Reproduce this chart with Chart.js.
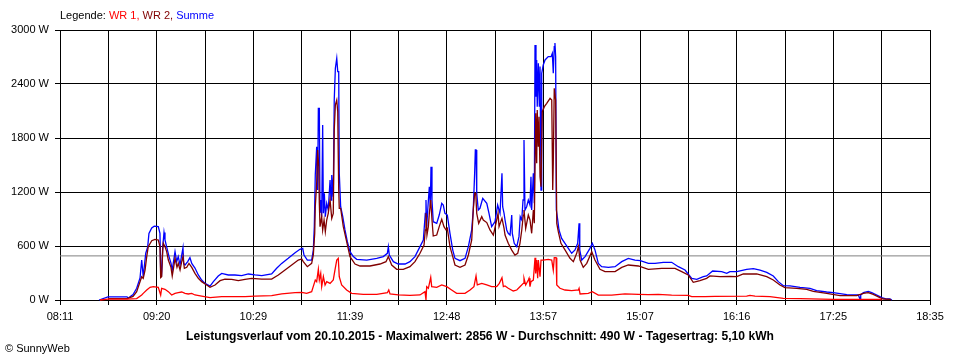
<!DOCTYPE html>
<html><head><meta charset="utf-8">
<script src="https://cdn.jsdelivr.net/npm/chart.js@4/dist/chart.umd.min.js"></script>
<style>html,body{margin:0;padding:0;background:#fff;}#wrap{width:960px;height:360px;}</style>
</head><body><div id="wrap"><canvas id="c" width="960" height="360"></canvas></div>
<script>
// ---- data (time in minutes since midnight, power in W) ----
const xTickLabels = ['08:11','09:20','10:29','11:39','12:48','13:57','15:07','16:16','17:25','18:35'];
const yTickLabels = ['0 W','600 W','1200 W','1800 W','2400 W','3000 W'];
const seriesNames = ['WR 1','WR 2','Summe'];
const timeMin = 491, timeMax = 1115;
const avgW = 490;
const titleText = 'Leistungsverlauf vom 20.10.2015 - Maximalwert: 2856 W - Durchschnitt: 490 W - Tagesertrag: 5,10 kWh';
const footerText = '\u00A9 SunnyWeb';

const sumT = [519.0,525.4,539.1,539.8,543.4,546.0,548.4,549.6,550.7,552.5,553.9,554.8,556.8,558.6,561.5,562.7,563.2,563.9,564.7,565.6,566.3,567.5,569.2,570.6,571.5,572.6,573.5,574.7,575.8,577.1,578.3,579.2,579.7,580.7,582.6,584.2,585.5,587.8,590.2,592.6,595.0,598.6,601.0,604.5,607.0,611.7,616.5,621.3,626.1,630.9,635.7,642.8,646.4,650.0,654.7,659.6,663.1,665.1,666.0,668.4,671.5,672.7,673.4,674.1,675.1,675.8,676.3,677.0,677.5,678.2,678.7,679.4,679.9,680.6,681.3,682.3,683.4,684.7,685.4,685.9,687.0,687.7,688.5,689.5,690.2,690.9,691.3,692.3,693.8,695.4,697.1,699.0,701.4,703.8,711.0,718.2,722.9,725.8,726.5,727.2,730.1,733.6,738.5,742.0,745.6,749.2,751.6,753.0,753.5,754.0,754.9,755.9,756.6,757.1,757.8,758.7,761.2,763.0,764.8,765.9,767.1,768.8,770.7,772.7,774.3,777.9,781.5,783.9,786.3,787.4,788.4,788.9,789.4,789.9,791.0,792.2,794.2,797.1,798.7,800.6,803.0,804.9,805.9,806.6,808.0,808.5,809.5,810.2,811.4,812.5,813.8,815.0,815.4,816.8,818.6,820.2,821.1,822.2,823.1,823.8,824.5,825.7,826.9,828.1,828.8,829.3,830.5,831.2,831.7,832.4,832.9,833.3,834.1,834.8,835.3,836.0,836.5,837.6,838.9,841.2,843.2,844.1,844.8,845.5,846.0,846.5,847.0,848.0,848.9,850.8,853.2,855.6,858.0,860.4,862.3,863.3,863.8,865.2,867.6,871.1,872.8,874.7,877.1,879.5,884.3,889.1,893.9,898.6,903.4,907.2,913.0,917.8,923.7,929.7,934.5,939.3,944.1,947.7,952.4,954.8,959.1,965.6,969.2,971.5,976.4,983.5,988.3,993.1,997.9,1002.6,1006.2,1009.8,1014.6,1021.8,1028.9,1033.7,1040.9,1045.6,1055.3,1063.6,1064.8,1065.3,1067.2,1070.7,1073.2,1076.8,1080.4,1083.9,1086.3,1087.7];
const sumW = [0,35,35,19,60,130,245,445,259,520,590,740,800,820,815,740,333,300,593,750,667,590,482,410,333,445,537,426,482,390,500,580,407,390,426,470,407,355,278,222,185,155,204,267,296,278,278,270,289,278,270,289,352,407,463,526,563,574,500,444,444,555,815,1389,1703,1222,2130,2130,966,1111,926,1944,963,1185,926,1074,1000,1333,1111,1389,1148,2222,2574,2685,2537,2537,1411,1037,926,778,648,537,482,452,444,463,482,519,593,500,426,400,400,426,482,593,667,963,1111,815,1037,1259,1037,1481,1111,870,852,944,1074,1055,963,944,741,555,463,437,463,593,778,1000,1407,1667,1667,1185,1000,1019,1130,1074,963,815,870,1055,1000,963,1407,1037,963,889,778,741,722,944,741,630,593,704,926,889,1111,1778,1000,1037,1111,1055,1370,1000,1407,1074,2833,2259,2667,2148,2630,2148,2593,1222,2519,2611,2667,2704,2704,2741,2519,2815,2856,2704,1000,889,778,685,630,574,519,556,630,852,556,444,482,574,630,556,407,370,363,370,426,463,444,437,407,407,419,419,370,333,241,230,259,267,322,315,296,315,315,341,348,333,307,267,204,159,156,141,130,104,89,81,59,56,11,56,81,96,81,56,26,11,11,0];

const wr2T = [525.4,539.1,543.4,546.0,549.6,550.7,552.0,553.2,554.3,556.8,559.1,561.5,562.7,563.2,563.9,564.7,565.1,566.3,567.5,568.7,570.6,571.5,572.6,573.5,574.9,575.8,577.1,578.3,579.2,580.2,581.9,583.5,585.5,587.8,590.2,592.6,596.2,598.6,602.2,605.8,609.3,614.2,618.9,623.7,628.5,635.7,642.8,647.6,652.4,657.2,661.9,664.4,665.5,668.4,671.5,672.7,673.7,674.1,675.1,675.8,676.6,677.0,677.5,678.7,679.4,680.4,681.3,682.3,683.4,684.7,685.9,687.0,687.7,688.5,689.5,690.2,690.9,691.3,692.3,694.2,696.6,699.0,702.6,706.2,713.3,720.5,724.8,726.5,728.9,732.5,737.2,742.0,745.6,749.2,752.1,753.0,753.5,754.2,755.2,755.9,756.9,757.8,758.7,761.2,763.0,764.8,766.4,767.9,768.8,770.7,772.7,774.3,777.9,781.5,783.9,786.3,787.4,788.4,789.2,789.9,791.3,793.5,794.6,797.1,799.4,801.8,804.2,805.2,805.9,808.0,809.5,810.2,812.5,815.0,817.3,819.3,820.9,822.2,823.3,823.8,825.0,826.9,828.1,829.3,830.5,831.2,832.2,832.9,833.3,834.1,834.6,835.3,836.0,836.9,838.4,840.1,842.5,843.7,844.4,844.8,845.5,846.5,847.3,848.4,850.3,853.2,856.8,859.2,861.6,862.8,864.0,866.3,868.8,872.4,874.7,878.3,881.9,889.1,893.9,898.6,905.8,913.0,922.6,932.1,936.9,941.6,945.2,950.0,954.8,957.2,964.4,971.5,976.4,981.1,990.7,997.9,1002.6,1007.4,1011.0,1019.4,1026.6,1031.3,1040.9,1050.5,1062.4,1067.2,1070.7,1074.3,1079.1,1081.5,1086.3,1087.0];
const wr2W = [15,15,40,93,259,241,333,482,593,659,674,667,593,250,260,560,630,593,537,444,363,267,370,463,363,407,333,426,482,352,363,407,363,296,241,204,167,141,167,215,233,230,215,230,241,233,233,278,333,389,444,456,426,370,407,500,741,1037,1296,1667,1481,1074,815,926,778,889,759,889,963,1111,907,963,1889,2167,2222,2093,1222,1019,1019,815,648,482,400,378,378,400,426,482,389,341,341,370,426,519,611,778,963,722,815,963,1111,889,711,722,815,896,815,778,796,593,482,389,363,389,500,667,1000,1185,1185,963,852,926,889,860,778,722,889,963,815,907,796,722,630,555,500,519,630,778,944,1000,796,944,889,741,1000,852,2074,1519,2111,1704,2037,1370,1259,2093,2148,2185,2241,2222,1222,1519,2352,2222,852,759,630,556,463,426,519,593,444,363,407,537,444,341,315,315,363,389,378,341,352,352,315,278,196,215,241,267,259,263,259,289,289,259,222,167,137,130,119,96,74,48,48,74,81,63,26,11,7,0];

const wr1T = [519.7,525.4,539.1,546.0,549.6,550.7,553.2,555.6,557.9,561.5,563.2,563.9,566.3,568.7,571.1,573.5,575.8,578.3,580.7,583.0,585.5,587.8,592.6,598.6,607.0,616.5,623.7,630.9,642.8,650.0,659.6,664.4,667.9,671.5,674.1,675.1,676.3,677.0,678.0,678.7,679.9,681.1,682.3,684.7,687.0,688.2,689.5,690.6,691.3,693.0,696.6,700.2,708.5,718.2,725.8,726.8,727.7,733.6,742.0,749.2,752.8,753.5,754.0,755.2,756.9,757.6,761.2,764.8,768.4,771.9,775.5,781.5,785.1,787.9,789.4,790.3,793.5,797.1,800.6,804.2,806.1,808.0,809.0,810.2,812.5,816.1,818.6,820.9,823.3,823.8,825.0,826.9,827.4,828.1,828.8,830.5,831.7,832.2,832.9,833.6,834.1,835.3,836.0,837.6,841.2,843.7,844.8,845.5,846.8,847.3,849.6,853.2,858.0,862.8,863.3,864.0,869.9,872.8,877.1,886.7,896.2,905.8,913.0,920.1,929.7,941.6,944.1,953.6,960.8,983.5,985.9,989.5,1000.2,1009.8,1021.8,1045.6,1079.1,1080.4];
const wr1W = [0,10,10,15,55,74,110,141,148,141,55,130,119,93,55,74,81,89,74,67,74,56,44,26,37,37,37,44,48,67,81,85,74,93,222,204,341,222,296,148,259,167,204,185,222,333,444,463,259,167,111,74,63,63,81,111,67,56,52,56,93,0,148,130,252,148,141,167,148,111,74,74,111,148,267,167,185,167,148,148,185,248,148,156,130,100,111,148,185,241,167,222,241,148,204,222,470,296,444,241,444,259,444,444,452,444,333,470,470,167,130,111,104,111,130,67,74,93,55,55,67,63,59,63,55,52,37,37,41,44,52,44,37,19,15,8,8,0];

// ---- build chart ----
const toXY = (t, w) => t.map((v, i) => ({x: v, y: w[i]}));
const FONT = 'Liberation Sans';

const textPlugin = {
  id: 'texts',
  afterDraw(chart) {
    const ctx = chart.ctx;
    ctx.save();
    ctx.textBaseline = 'middle';
    ctx.textAlign = 'left';
    ctx.font = '11px "' + FONT + '"';
    const parts = [['Legende: ', '#000000'], [seriesNames[0] + ', ', '#ff0000'], [seriesNames[1] + ', ', '#800000'], [seriesNames[2], '#0000ff']];
    let x = 60;
    for (const [t, c] of parts) { ctx.fillStyle = c; ctx.fillText(t, x, 16); x += ctx.measureText(t).width; }
    ctx.fillStyle = '#000';
    ctx.font = 'bold 12.1px "' + FONT + '"';
    ctx.textAlign = 'center';
    ctx.fillText(titleText, 480, 337);
    ctx.font = '11px "' + FONT + '"';
    ctx.textAlign = 'left';
    ctx.fillText(footerText, 5, 349);
    ctx.restore();
  }
};

new Chart(document.getElementById('c'), {
  type: 'line',
  data: {
    datasets: [
      {label: seriesNames[0], data: toXY(wr1T, wr1W), borderColor: '#ff0000', borderWidth: 1.3},
      {label: seriesNames[1], data: toXY(wr2T, wr2W), borderColor: '#800000', borderWidth: 1.3},
      {label: seriesNames[2], data: toXY(sumT, sumW), borderColor: '#0000ff', borderWidth: 1.3},
      {label: 'avg', data: [{x: timeMin, y: avgW}, {x: timeMax, y: avgW}], borderColor: '#808080', borderWidth: 1}
    ]
  },
  options: {
    responsive: false,
    animation: false,
    devicePixelRatio: 1,
    layout: {padding: {top: 30, right: 30, left: 0, bottom: 0}},
    elements: {point: {radius: 0}, line: {tension: 0}},
    datasets: {line: {clip: 3, fill: false}},
    plugins: {legend: {display: false}, tooltip: {enabled: false}, title: {display: false}},
    scales: {
      x: {
        type: 'linear', min: timeMin, max: timeMax,
        afterBuildTicks(scale) {
          const n = (xTickLabels.length - 1) * 2;
          const ticks = [];
          for (let i = 0; i <= n; i++) ticks.push({value: timeMin + (timeMax - timeMin) * i / n});
          scale.ticks = ticks;
        },
        afterFit(scale) { scale.height = 60; },
        ticks: {
          autoSkip: false, maxRotation: 0, minRotation: 0, padding: 5, color: '#000',
          font: {family: FONT, size: 11},
          callback: (v, i) => (i % 2 === 0 ? xTickLabels[i / 2] : '')
        },
        grid: {color: '#000', lineWidth: 1, tickLength: 5, tickColor: '#000', drawTicks: true},
        border: {color: '#000', width: 1}
      },
      y: {
        min: 0, max: 3000,
        ticks: {stepSize: 600, padding: 6, color: '#000', font: {family: FONT, size: 11},
          callback: (v, i) => yTickLabels[i]},
        afterFit(scale) { scale.width = 60; },
        grid: {color: '#000', lineWidth: 1, tickLength: 5, tickColor: '#000'},
        border: {color: '#000', width: 1}
      }
    }
  },
  plugins: [textPlugin]
});
</script>
</body></html>
